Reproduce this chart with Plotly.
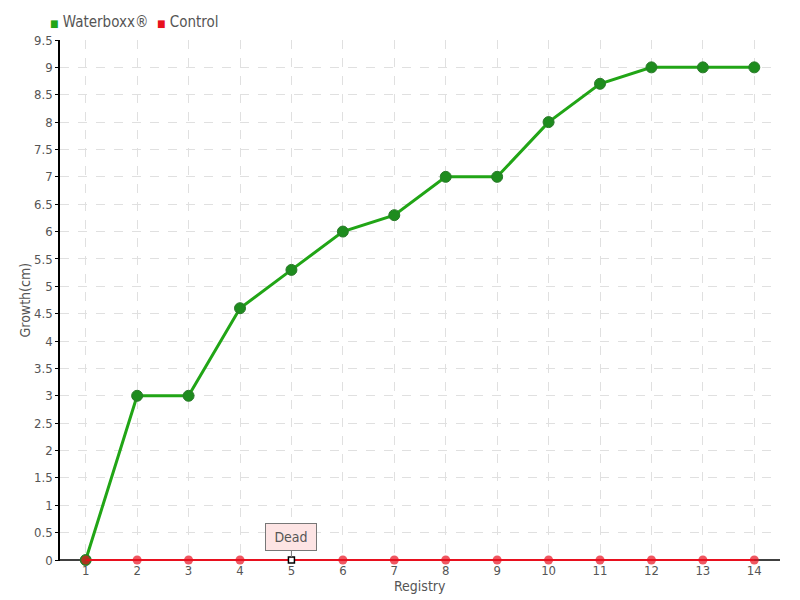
import plotly.graph_objects as go

registry = list(range(1, 15))
waterboxx = [0, 3, 3, 4.6, 5.3, 6, 6.3, 7, 7, 8, 8.7, 9, 9, 9]
control = [0] * 14
y_ticks = [0, 0.5, 1, 1.5, 2, 2.5, 3, 3.5, 4, 4.5, 5, 5.5, 6, 6.5, 7, 7.5, 8, 8.5, 9, 9.5]
y_ticktext = ["0", "0.5", "1", "1.5", "2", "2.5", "3", "3.5", "4", "4.5", "5", "5.5", "6", "6.5", "7", "7.5", "8", "8.5", "9", "9.5"]
series_names = ["Waterboxx®", "Control"]
dead_point = 5
dead_label = "Dead"

FONT = "'Liberation Sans Narrow', 'DejaVu Sans Condensed', 'Arial Narrow', sans-serif"
GREEN = "#21a516"
GREEN_DARK = "#1e8c1e"
RED = "#e8101e"
TXT = "#555555"

fig = go.Figure()
fig.add_trace(go.Scatter(
    x=registry, y=waterboxx, mode="lines+markers", name=series_names[0], showlegend=False,
    line=dict(color=GREEN, width=3), cliponaxis=False,
    marker=dict(size=11, color=GREEN_DARK, line=dict(color="#2a7a2a", width=1)),
))
ctrl_sizes = [9 if r != dead_point else 0 for r in registry]
fig.add_trace(go.Scatter(
    x=registry, y=control, mode="lines+markers", name=series_names[1], showlegend=False,
    line=dict(color=RED, width=2), cliponaxis=False,
    marker=dict(size=ctrl_sizes, color=RED, line=dict(width=0)),
))
fig.add_trace(go.Scatter(
    x=[dead_point], y=[control[dead_point - 1]], mode="markers", showlegend=False,
    cliponaxis=False,
    marker=dict(size=6, symbol="square", color="white", line=dict(color="black", width=1.5)),
))

# x-axis baseline at y=0, beneath the series
fig.add_shape(type="line", xref="paper", yref="y", x0=0, x1=1, y0=0, y1=0,
              line=dict(color="black", width=1.5), layer="below")

# legend drawn as compact text items
fig.add_annotation(
    xref="paper", yref="paper", x=-0.017, y=1.0 + 18 / 521, xanchor="left", yanchor="middle",
    showarrow=False,
    text=(f"<span style='color:{GREEN};font-size:10px'>■</span> {series_names[0]}"
          f"  <span style='color:{RED};font-size:10px'>■</span> {series_names[1]}"),
    font=dict(family=FONT, size=15, color=TXT),
)

fig.add_annotation(
    x=dead_point, y=control[dead_point - 1], text=dead_label,
    showarrow=True, ax=0, ay=-9, arrowhead=0, arrowcolor="#777", arrowwidth=1,
    standoff=3, bgcolor="#fde4e4", bordercolor="#777", borderwidth=1, borderpad=5,
    font=dict(family=FONT, size=14, color=TXT), yanchor="bottom", width=40,
)

# axis titles
fig.add_annotation(
    xref="paper", yref="paper", x=0.5, y=-25 / 521, xanchor="center", yanchor="middle",
    showarrow=False, text="Registry", font=dict(family=FONT, size=14, color=TXT),
)
fig.add_annotation(
    xref="paper", yref="paper", x=-36 / 720, y=0.5, xanchor="center", yanchor="middle",
    showarrow=False, text="Growth(cm)", textangle=-90, font=dict(family=FONT, size=14, color=TXT),
)

fig.update_layout(
    width=792, height=592,
    margin=dict(l=52, r=20, t=32, b=39),
    plot_bgcolor="white", paper_bgcolor="white",
    font=dict(family=FONT, size=14, color=TXT),
    showlegend=False,
    xaxis=dict(
        range=[0.5, 14.5], tickvals=registry, ticktext=[str(r) for r in registry],
        showgrid=True, gridcolor="#e0e0e0", griddash="dash", gridwidth=1,
        showline=False, layer="below traces",
        ticks="", zeroline=False, automargin=False,
        tickfont=dict(family=FONT, size=13, color=TXT),
    ),
    yaxis=dict(
        range=[-0.0183, 9.5], tickvals=y_ticks, ticktext=y_ticktext,
        showgrid=True, gridcolor="#e0e0e0", griddash="dash", gridwidth=1,
        showline=True, linecolor="black", linewidth=1.5, layer="below traces",
        ticks="outside", ticklen=3, tickcolor="black", zeroline=False, automargin=False,
        tickfont=dict(family=FONT, size=13, color=TXT),
    ),
)

fig.write_html("out.html")
